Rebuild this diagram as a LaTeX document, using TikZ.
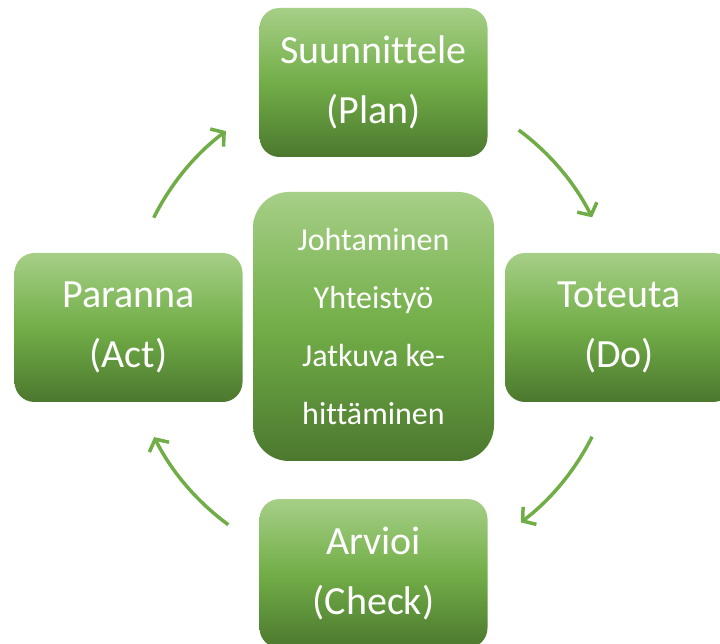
\documentclass[tikz,border=0pt]{standalone}
\usepackage{fontspec}
\setmainfont{Carlito}[Ligatures=NoCommon]
\usetikzlibrary{arrows.meta,calc}
\definecolor{gtop}{RGB}{166,207,135}
\definecolor{gmid}{RGB}{114,174,72}
\definecolor{gbot}{RGB}{76,120,46}
\definecolor{arrowgreen}{RGB}{112,173,71}
\tikzset{
  pdcabox/.style={rounded corners=20pt, top color=gtop, bottom color=gbot, middle color=gmid,
    minimum width=228pt, minimum height=149pt, inner sep=0pt, text=white, align=center,
    font=\fontsize{40}{60}\selectfont},
  corebox/.style={rounded corners=36pt, top color=gtop, bottom color=gbot, middle color=gmid,
    minimum width=241pt, minimum height=269pt, inner sep=0pt, text=white, align=center,
    font=\fontsize{32}{58}\selectfont},
  cyclearrow/.style={draw=arrowgreen, line width=3.5pt, -{Straight Barb[length=9pt,width=22pt]}}
}
\begin{document}
\begin{tikzpicture}[x=1pt,y=1pt]
\useasboundingbox (0,0) rectangle (720,643);
\clip (0,0) rectangle (720,643);
\node[pdcabox] (plan) at (373.5,560.5) {Suunnittele\\(Plan)};
\node[pdcabox] (act) at (128.5,315.5) {Paranna\\(Act)};
\node[pdcabox] (do) at (619,315.5) {Toteuta\\(Do)};
\node[pdcabox] (check) at (373.5,69.5) {Arvioi\\(Check)};
\node[corebox] (core) at (373.5,316.5) {Johtaminen\\Yhteistyö\\Jatkuva ke-\\hittäminen};
\coordinate (c) at (373,316);
\coordinate (a1) at ($(c)+(53.5:245)$);
\coordinate (a2) at ($(c)+(-26.6:245)$);
\coordinate (a3) at ($(c)+(233.8:245)$);
\coordinate (a4) at ($(c)+(153.5:245)$);
\draw[cyclearrow] (a1) arc[start angle=53.5, end angle=26.6, radius=245];
\draw[cyclearrow] (a2) arc[start angle=-26.6, end angle=-52.9, radius=245];
\draw[cyclearrow] (a3) arc[start angle=233.8, end angle=206.7, radius=245];
\draw[cyclearrow] (a4) arc[start angle=153.5, end angle=126.9, radius=245];
\end{tikzpicture}
\end{document}
